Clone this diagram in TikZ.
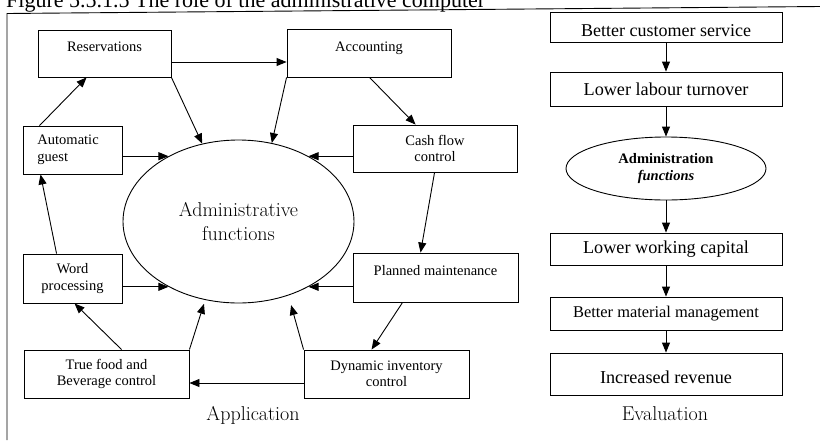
\documentclass[tikz,border=0pt]{standalone}
\usepackage{fontspec}
\newfontfamily\tms{Liberation Serif}
\usetikzlibrary{arrows.meta,shapes.geometric}

\begin{document}
\begin{tikzpicture}[x=1pt,y=-1pt,
  box/.style={draw,line width=0.9pt,inner sep=0pt,align=center,
    font=\tms\fontsize{14.5}{16.5}\selectfont},
  wh/.style 2 args={minimum width=#1pt,minimum height=#2pt},
  oneline/.style={text height=10pt,text depth=14pt},
  evalbox/.style={draw,line width=0.9pt,inner sep=0pt,align=center,
    minimum width=232pt,font=\tms\fontsize{18.2}{21}\selectfont},
  arr/.style={line width=0.9pt,-{Triangle[length=10pt,width=8pt]}},
  bigtext/.style={font=\fontsize{20}{24}\selectfont},
]
\useasboundingbox (0,0) rectangle (820,440);

% caption and frame
\node[anchor=base west,inner sep=0pt,font=\tms\fontsize{22}{26}\selectfont] (cap) at (6,7)
  {Figure 5.5.1.5 The role of the administrative computer};
\draw[line width=0.9pt] (7,440) -- (7,13.5) -- (820,6.5);

% application side
\node[draw,line width=0.9pt,ellipse,inner sep=0pt,wh={231}{163},align=center,bigtext] (ell)
  at (238.5,221.5) {Administrative\\functions};

\node[box,wh={133}{47},oneline] (res) at (104.5,53.5) {Reservations};
\node[box,wh={164}{48},oneline] (acc) at (369,53) {Accounting};
\node[box,wh={99}{48},text width=70pt,align=left] (auto) at (72.5,150) {Automatic\\guest};
\node[box,wh={164}{47}] (cash) at (435,148.5) {Cash flow\\control};
\node[box,wh={99}{49}] (word) at (72.5,278.5) {Word\\processing};
\node[box,wh={165}{49},oneline] (plan) at (435.5,277.5) {Planned maintenance};
\node[box,wh={165}{48}] (tf) at (106.5,374) {True food and\\Beverage control};
\node[box,wh={165}{48}] (dyn) at (386.5,374) {Dynamic inventory\\control};

\node[bigtext,inner sep=0pt] (app) at (253,415) {Application};

\coordinate (r1) at ([yshift=-8.5pt]res.east);
\draw[arr] (r1) -- (r1 -| acc.west);
\draw[arr] (res.south east) -- (ell.115);
\draw[arr] (acc.south west) -- (ell.67);
\draw[arr] ([xshift=83pt]acc.south west) -- ([xshift=63pt]cash.north west);
\draw[arr] ([xshift=17pt]auto.north west) -- ([xshift=49pt]res.south west);
\draw[arr] (auto.east |- ell.137) -- (ell.137);
\draw[arr] (cash.west |- ell.43) -- (ell.43);
\draw[arr] ([xshift=82pt]cash.south west) -- ([xshift=68pt]plan.north west);
\draw[arr] ([xshift=34pt]word.north west) -- ([xshift=18pt]auto.south west);
\draw[arr] (word.east |- ell.223) -- (ell.223);
\draw[arr] (plan.west |- ell.317) -- (ell.317);
\draw[arr] ([xshift=50pt]plan.south west) -- ([xshift=68pt]dyn.north west);
\coordinate (d1) at ([yshift=-9pt]dyn.west);
\draw[arr] (d1) -- (d1 -| tf.east);
\draw[arr] ([xshift=98pt]tf.north west) -- ([xshift=52pt]word.south west);
\draw[arr,shorten >=4pt] (tf.north east) -- (ell.247);
\draw[arr,shorten >=10pt] (dyn.north west) -- (ell.304);

% evaluation side
\node[evalbox,minimum height=30pt,text height=18pt,text depth=0pt,
  font=\tms\fontsize{18}{21}\selectfont] (bcs) at (666,27) {Better customer service};
\node[evalbox,minimum height=34pt] (llt) at (666,89) {Lower labour turnover};
\node[draw,line width=0.9pt,ellipse,inner sep=0pt,wh={200}{63},align=center,
  font=\tms\fontsize{14.5}{17}\selectfont] (sell) at (666,168.5)
  {\textbf{Administration}\\\textbf{\textit{functions}}};
\node[evalbox,minimum height=32pt] (lwc) at (666,249) {Lower working capital};
\node[evalbox,minimum height=33pt,font=\tms\fontsize{16.4}{19}\selectfont] (bmm) at (666,313.5)
  {Better material management};
\node[evalbox,minimum height=42pt,text height=18pt,text depth=0pt] (ir) at (666,374)
  {Increased revenue};

\node[bigtext,inner sep=0pt] (evl) at (665,414) {Evaluation};

\draw[arr] (bcs) -- (llt);
\draw[arr] (llt) -- (sell);
\draw[arr] (sell) -- (lwc);
\draw[arr] (lwc) -- (bmm);
\draw[arr] (bmm) -- (ir);
\end{tikzpicture}
\end{document}
